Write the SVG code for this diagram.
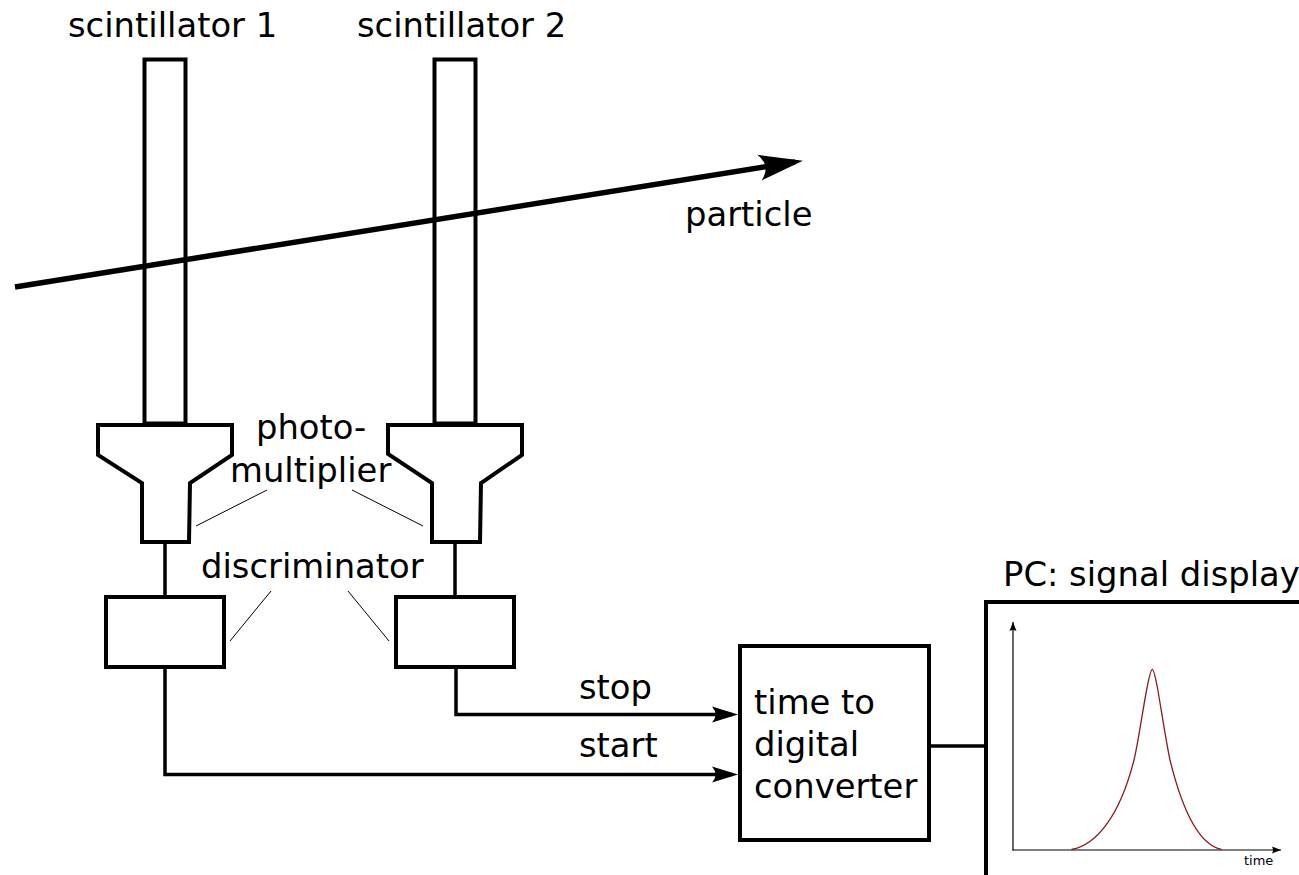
<svg xmlns="http://www.w3.org/2000/svg" width="1299" height="875" viewBox="0 0 1299 875">
<style>
text{font-family:"DejaVu Sans",sans-serif;font-size:33.800px;fill:#000}
.s{fill:#fff;stroke:#000;stroke-width:4}
.c{fill:none;stroke:#000;stroke-width:3.500}
.t{fill:none;stroke:#000;stroke-width:1}
</style>
<defs>
<marker id="a" markerUnits="userSpaceOnUse" markerWidth="30" markerHeight="20" refX="20" refY="9" orient="auto"><path d="M0,1 L26,9 L0,17 Q7,9 0,1Z" fill="#000"/></marker>
<marker id="b" markerUnits="userSpaceOnUse" markerWidth="50" markerHeight="30" refX="36" refY="14" orient="auto"><path d="M0,1 L44,14 L0,27 Q12,14 0,1Z" fill="#000"/></marker>
<marker id="m" markerUnits="userSpaceOnUse" markerWidth="10" markerHeight="8" refX="9" refY="4" orient="auto"><path d="M0,0.500 L9,4 L0,7.500 Q2,4 0,0.500Z" fill="#000"/></marker>
</defs>
<rect width="1299" height="875" fill="#fff"/>
<g id="connectors">
<path class="c" d="M165,542V597M455,542V597"/>
<path class="c" d="M165,667V774.500H732" marker-end="url(#a)"/>
<path class="c" d="M456,667V714.500H732" marker-end="url(#a)"/>
<path class="c" d="M929,746H986"/>
<path class="t" d="M196,526L267,490M423,526L352,490M230,641L271,591M389,641L348,591"/>
</g>
<g id="scintillator1"><rect class="s" x="144.500" y="59.500" width="41" height="364"/><text x="68" y="37">scintillator 1</text></g>
<g id="scintillator2"><rect class="s" x="434.500" y="59.500" width="41" height="364"/><text x="357" y="37">scintillator 2</text></g>
<g id="pmt1"><path class="s" d="M98,425H232V455L190,483L189,542H142V483L98,455Z"/></g>
<g id="pmt2"><path class="s" d="M388,425H522V455L481,483L480,542H432V483L388,454Z"/></g>
<g id="disc1"><rect class="s" x="106" y="597" width="118" height="70"/></g>
<g id="disc2"><rect class="s" x="396" y="597" width="118" height="70"/></g>
<g id="tdc"><rect class="s" x="740" y="646" width="189" height="194"/><text x="754" y="714">time to</text><text x="754" y="756">digital</text><text x="754" y="798">converter</text></g>
<g id="pc">
<path class="s" d="M1300,602H986V880"/>
<text x="1003" y="586">PC: signal display</text>
<path fill="none" stroke="#000" stroke-width="1.200" d="M1013,850.500V622" marker-end="url(#m)"/>
<path fill="none" stroke="#000" stroke-width="1.200" d="M1012.500,850H1281" marker-end="url(#m)"/>
<path fill="none" stroke="#8b1a1a" stroke-width="1.300" d="M1071.500,849.500C1097,845 1120,815 1134,760C1138,744 1143,708 1147,688C1149,678 1150.500,669.300 1152.400,669.300C1154,669.300 1155.500,678 1157.500,688C1161,708 1166.500,744 1170,760C1183.500,815 1200,845 1221.500,849.500"/>
<text x="1244" y="865" style="font-size:13px">time</text>
</g>
<g id="particle"><path fill="none" stroke="#000" stroke-width="5.500" d="M15,287L795,162" marker-end="url(#b)"/><text x="685" y="226">particle</text></g>
<g id="labels">
<text x="256" y="439">photo-</text>
<text x="230" y="482">multiplier</text>
<text x="201" y="578">discriminator</text>
<text x="579" y="699">stop</text>
<text x="579" y="757">start</text>
</g>
</svg>
